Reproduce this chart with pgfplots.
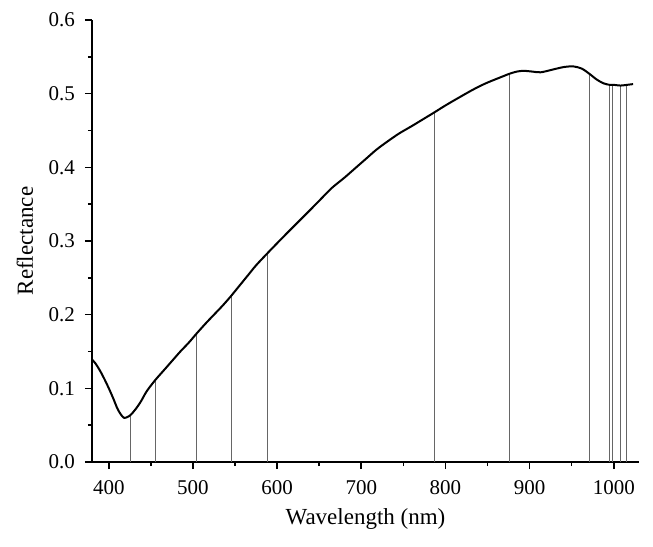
\documentclass[border=0pt]{standalone}
\usepackage{fontspec}
\setmainfont{Liberation Serif}
\usepackage{pgfplots}
\pgfplotsset{compat=1.18}

\pgfplotstableread{
wl refl
380 0.139
384 0.134
390 0.123
395 0.112
400 0.100
405 0.087
410 0.073
414 0.065
418 0.060
422 0.061
426 0.064
432 0.072
438 0.082
445 0.096
455 0.111
465 0.124
475 0.137
485 0.150
495 0.162
504 0.174
515 0.188
525 0.200
535 0.212
545 0.225
555 0.239
565 0.253
575 0.267
589 0.284
600 0.297
612 0.311
626 0.327
640 0.343
652 0.357
665 0.372
680 0.386
691 0.397
705 0.411
718 0.424
731 0.435
745 0.446
760 0.456
773 0.465
786 0.474
800 0.484
815 0.494
832 0.505
845 0.5125
853 0.5165
865 0.522
876 0.527
885 0.530
893 0.531
903 0.530
913 0.529
925 0.532
940 0.536
952 0.537
962 0.534
971 0.527
980 0.519
988 0.514
995 0.512
1000 0.512
1008 0.511
1016 0.512
1023 0.513
}\spectrum

% selected wavelengths (vertical markers)
\pgfplotstableread{
wl refl
426.1 0.064
455.1 0.111
503.8 0.174
545.4 0.225
588.5 0.284
786.6 0.474
876.0 0.527
971.5 0.527
994.9 0.512
998.4 0.512
1007.5 0.511
1015.4 0.512
}\bands

\begin{document}
\begin{tikzpicture}
\path (-46pt,-42pt) rectangle (280.5pt,231pt);
\begin{axis}[
  scale only axis,
  width=273.5pt,height=221pt,
  xmin=380,xmax=1030,
  ymin=0,ymax=0.6,
  axis lines=left,
  axis line style={-,line width=0.9pt},
  xtick={400,500,...,1000},
  minor xtick={450,550,...,1050},
  ytick={0,0.1,...,0.6},
  minor ytick={0.05,0.15,...,0.55},
  tick align=outside,
  major tick length=3.5pt,
  minor tick length=2pt,
  every tick/.style={black,line width=0.8pt},
  xticklabel style={/pgf/number format/set thousands separator={},yshift=-2pt},
  yticklabel style={/pgf/number format/.cd,fixed,fixed zerofill,precision=1,
    /tikz/.cd,xshift=-1.5pt},
  /pgf/number format/assume math mode=true,
  ticklabel style={font=\fontsize{10.5}{12}\selectfont},
  label style={font=\fontsize{11.5}{13}\selectfont},
  xlabel={Wavelength (nm)},
  ylabel={Reflectance},
  xlabel style={at={(axis description cs:0.5,0)},anchor=center,yshift=-28.5pt},
  ylabel style={at={(axis description cs:0,0.5)},anchor=center,yshift=33.5pt},
  clip=false,
]
\addplot[ycomb,gray!80!black,line width=0.5pt,no marks] table[x=wl,y=refl] {\bands};
\addplot[black,line width=1pt,smooth,no marks] table[x=wl,y=refl] {\spectrum};
\end{axis}
\end{tikzpicture}
\end{document}
